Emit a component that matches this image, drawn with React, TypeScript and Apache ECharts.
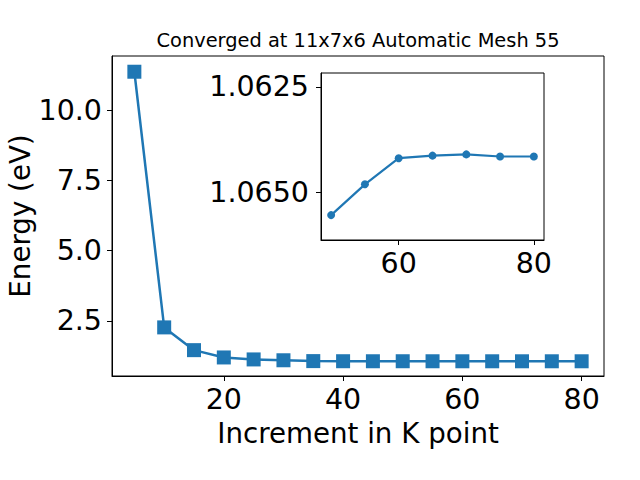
import React, { useEffect, useRef } from 'react';
import * as echarts from 'echarts';

const kPoints = [5, 10, 15, 20, 25, 30, 35, 40, 45, 50, 55, 60, 65, 70, 75, 80];
const energies = [11.37, 2.27, 1.46, 1.2, 1.13, 1.1, 1.07, 1.066, 1.065, 1.0655, 1.0648, 1.0642, 1.0641, 1.0641, 1.0641, 1.0641];
const insetK = [50, 55, 60, 65, 70, 75, 80];
const insetEnergies = [1.06554, 1.06481, 1.06419, 1.06413, 1.0641, 1.06415, 1.06415];
const mainXTicks = [20, 40, 60, 80];
const mainYTicks = [2.5, 5, 7.5, 10];
const insetXTicks = [60, 80];
const insetYTicks = [1.0625, 1.065];

const titleText = 'Converged at 11x7x6 Automatic Mesh 55';
const xName = 'Increment in K point';
const yName = 'Energy (eV)';

const FONT = 'DejaVu Sans';
const BLUE = '#1f77b4';
const TICK_FS = 28.5;

export default function App() {
  const ref = useRef<HTMLDivElement>(null);
  useEffect(() => {
    if (!ref.current) return;
    const chart = echarts.init(ref.current, null, { renderer: 'svg' });
    const axisCommon = {
      axisLine: { show: true, onZero: false, lineStyle: { color: '#000', width: 1 } },
      axisTick: { show: true, length: 5, lineStyle: { color: '#000', width: 1 } },
      splitLine: { show: false },
    };
    chart.setOption({
      animation: false,
      backgroundColor: '#fff',
      title: {
        text: titleText,
        left: 358,
        top: 31,
        padding: 0,
        textAlign: 'center',
        textStyle: { fontFamily: FONT, fontSize: 19.4, fontWeight: 'normal', color: '#000' },
      },
      grid: [
        { left: 112, top: 56, width: 492, height: 320, show: true, borderColor: '#000', borderWidth: 1, backgroundColor: 'transparent', containLabel: false, outerBoundsMode: 'none' },
        { left: 321, top: 73, width: 223, height: 167, show: true, borderColor: '#000', borderWidth: 1, backgroundColor: '#fff', z: 5, containLabel: false, outerBoundsMode: 'none' },
      ],
      xAxis: [
        {
          type: 'value', gridIndex: 0, min: 1.25, max: 83.75,
          ...axisCommon,
          axisTick: { ...axisCommon.axisTick, customValues: mainXTicks },
          axisLabel: { customValues: mainXTicks, fontFamily: FONT, fontSize: TICK_FS, color: '#000', margin: 9 },
          name: xName, nameLocation: 'middle', nameGap: 43, nameMoveOverlap: false,
          nameTextStyle: { fontFamily: FONT, fontSize: 27.7, color: '#000' },
        },
        {
          type: 'value', gridIndex: 1, min: 48.5, max: 81.5, z: 6,
          ...axisCommon,
          axisTick: { ...axisCommon.axisTick, customValues: insetXTicks },
          axisLabel: { customValues: insetXTicks, fontFamily: FONT, fontSize: TICK_FS, color: '#000', margin: 9 },
        },
      ],
      yAxis: [
        {
          type: 'value', gridIndex: 0, min: 0.54, max: 11.93,
          ...axisCommon,
          axisTick: { ...axisCommon.axisTick, customValues: mainYTicks },
          axisLabel: { customValues: mainYTicks, fontFamily: FONT, fontSize: TICK_FS, color: '#000', margin: 10, formatter: (v: number) => v.toFixed(1) },
          name: yName, nameLocation: 'middle', nameGap: 78, nameMoveOverlap: false,
          nameTextStyle: { fontFamily: FONT, fontSize: 27.7, color: '#000' },
        },
        {
          type: 'value', gridIndex: 1, min: 1.06217, max: 1.06613, inverse: true, z: 6,
          ...axisCommon,
          axisTick: { ...axisCommon.axisTick, customValues: insetYTicks },
          axisLabel: { customValues: insetYTicks, fontFamily: FONT, fontSize: TICK_FS, color: '#000', margin: 12, formatter: (v: number) => v.toFixed(4) },
        },
      ],
      series: [
        {
          type: 'line', xAxisIndex: 0, yAxisIndex: 0,
          data: kPoints.map((k, i) => [k, energies[i]]),
          symbol: 'rect', symbolSize: 14,
          lineStyle: { color: BLUE, width: 2.5 },
          itemStyle: { color: BLUE },
        },
        {
          type: 'line', xAxisIndex: 1, yAxisIndex: 1, z: 7,
          data: insetK.map((k, i) => [k, insetEnergies[i]]),
          symbol: 'circle', symbolSize: 8,
          lineStyle: { color: BLUE, width: 2.2 },
          itemStyle: { color: BLUE },
        },
      ],
    });
    return () => chart.dispose();
  }, []);
  return <div ref={ref} style={{ position: 'fixed', left: 0, top: 0, width: 640, height: 480 }} />;
}
